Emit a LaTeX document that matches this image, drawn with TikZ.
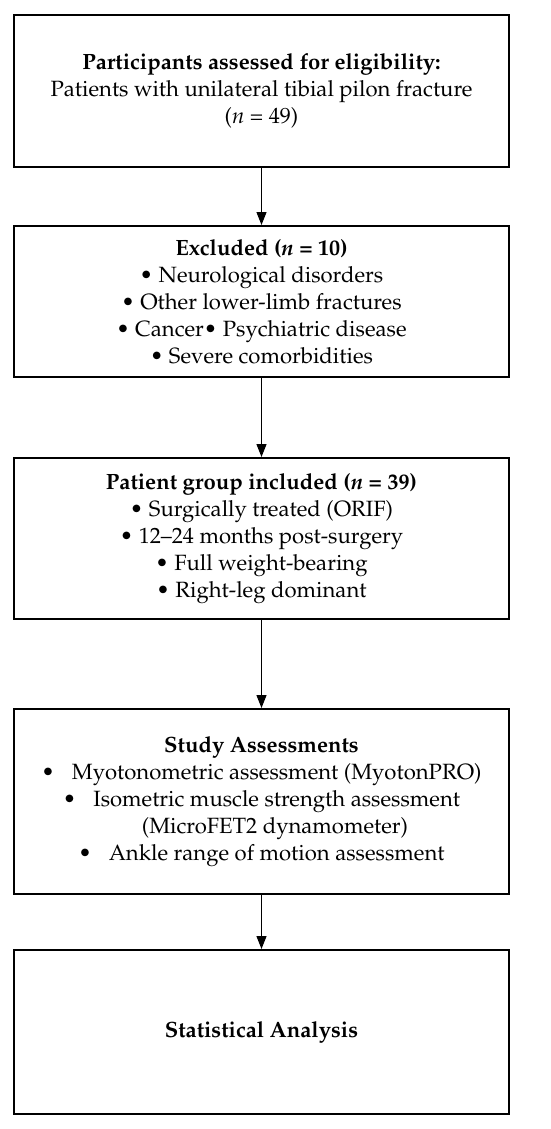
\documentclass[tikz,border=0pt]{standalone}
\usepackage[T1]{fontenc}
\usepackage{textcomp}
\usepackage{mathpazo}
\usetikzlibrary{arrows.meta}
\begin{document}
\begin{tikzpicture}[x=1pt,y=-1pt,
  box/.style={draw=black,line width=2pt,minimum width=495pt,inner sep=0pt,align=center,
    font=\fontsize{22.1pt}{27pt}\selectfont},
  arr/.style={line width=1.1pt,-{Triangle[length=13pt,width=10pt]}}]
\useasboundingbox (0,0) rectangle (550,1129);
\fill[white] (0,0) rectangle (550,1129);
\node[box,minimum height=152pt] (b1) at (261.5,91)
  {\textbf{Participants assessed for eligibility:}\\
   Patients with unilateral tibial pilon fracture\\
   (\textit{n} = 49)};
\node[box,minimum height=151pt] (b2) at (261.5,301.5)
  {\textbf{Excluded (\textit{n} = 10)}\\
   \textbullet{} Neurological disorders\\
   \textbullet{} Other lower-limb fractures\\
   \textbullet{} Cancer\textbullet{} Psychiatric disease\\
   \textbullet{} Severe comorbidities};
\node[box,minimum height=161pt] (b3) at (261.5,538.5)
  {\textbf{Patient group included (\textit{n} = 39)}\\
   \textbullet{} Surgically treated (ORIF)\\
   \textbullet{} 12--24 months post-surgery\\
   \textbullet{} Full weight-bearing\\
   \textbullet{} Right-leg dominant};
\node[box,minimum height=185pt] (b4) at (261.5,801.5)
  {\textbf{Study Assessments}\\
   \textbullet\hspace{17pt}Myotonometric assessment (MyotonPRO)\\
   \textbullet\hspace{17pt}Isometric muscle strength assessment\\
   \hspace*{27pt}(MicroFET2 dynamometer)\\
   \textbullet\hspace{17pt}Ankle range of motion assessment};
\node[box,minimum height=164pt] (b5) at (261.5,1032)
  {\textbf{Statistical Analysis}};
\draw[arr] (b1.south) -- (b2.north);
\draw[arr] (b2.south) -- (b3.north);
\draw[arr] (b3.south) -- (b4.north);
\draw[arr] (b4.south) -- (b5.north);
\end{tikzpicture}
\end{document}
